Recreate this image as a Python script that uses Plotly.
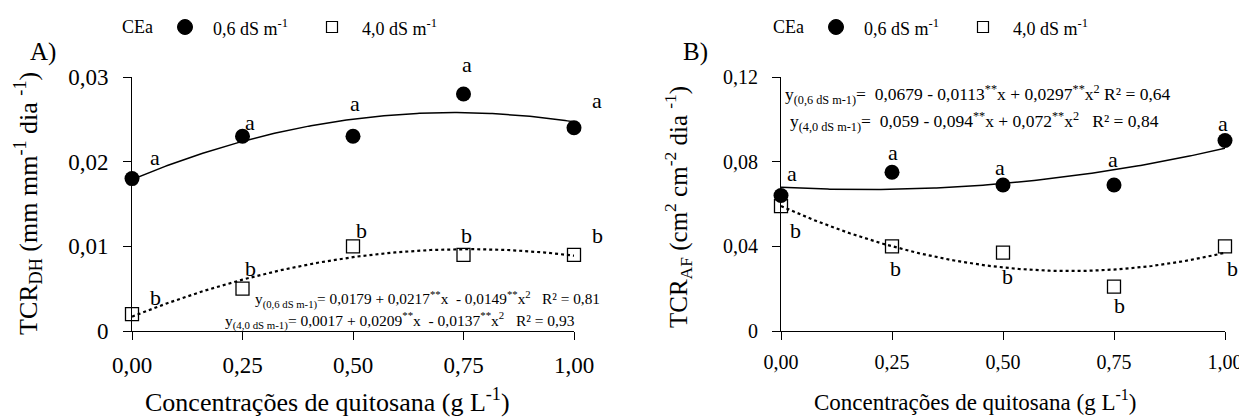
import numpy as np
import plotly.graph_objects as go

# page body has an 8px default margin: figure is sized to fit the window
OFF = 8
W, H = 1247 - OFF, 419 - OFF
FONT = "Times New Roman"

# ---------------- data ----------------
conc = [0.0, 0.25, 0.50, 0.75, 1.00]
x_tick_labels = ["0,00", "0,25", "0,50", "0,75", "1,00"]

# Panel A : TCR_DH
dh_06 = [0.018, 0.023, 0.023, 0.028, 0.024]
dh_40 = [0.002, 0.005, 0.010, 0.009, 0.009]
dh_06_letters = ["a", "a", "a", "a", "a"]
dh_40_letters = ["b", "b", "b", "b", "b"]
dh_06_coef = [0.0179, 0.0217, -0.0149]
dh_40_coef = [0.0017, 0.0209, -0.0137]
dh_yticks = [0, 0.01, 0.02, 0.03]
dh_ytick_labels = ["0", "0,01", "0,02", "0,03"]

# Panel B : TCR_AF
af_06 = [0.064, 0.075, 0.069, 0.069, 0.090]
af_40 = [0.059, 0.040, 0.037, 0.021, 0.040]
af_06_letters = ["a", "a", "a", "a", "a"]
af_40_letters = ["b", "b", "b", "b", "b"]
af_06_coef = [0.0679, -0.0113, 0.0297]
af_40_coef = [0.059, -0.094, 0.072]
af_yticks = [0, 0.04, 0.08, 0.12]
af_ytick_labels = ["0", "0,04", "0,08", "0,12"]

# letter offsets (pixels, x right / y up)
dh_06_off = [(23, 21), (7, 14), (2, 33), (3, 29), (23, 27)]
dh_40_off = [(23, 17), (8, 20), (8, 16), (3, 19), (23, 19)]
af_06_off = [(11, 22), (1, 20), (-3, 17), (-1, 25), (-2, 17)]
af_40_off = [(14, -24), (3, -22), (4, -24), (5, -19), (7, -22)]


def px_x(p):
    return (p - OFF) / W


def px_y(p):
    return 1 - (p - OFF) / H


def quad(coef, x):
    return coef[0] + coef[1] * x + coef[2] * x ** 2


x_fit = np.linspace(0, 1, 201)

fig = go.Figure()

panels = [
    ("x", "y", dh_06, dh_40, dh_06_coef, dh_40_coef, dh_06_letters, dh_40_letters, dh_06_off, dh_40_off),
    ("x2", "y2", af_06, af_40, af_06_coef, af_40_coef, af_06_letters, af_40_letters, af_06_off, af_40_off),
]

annotations = []
for xa, ya, s06, s40, c06, c40, l06, l40, o06, o40 in panels:
    fig.add_trace(go.Scatter(x=x_fit, y=quad(c06, x_fit), mode="lines",
                             line=dict(color="black", width=1.5),
                             xaxis=xa, yaxis=ya, showlegend=False, hoverinfo="skip"))
    fig.add_trace(go.Scatter(x=x_fit, y=quad(c40, x_fit), mode="lines",
                             line=dict(color="black", width=2.2, dash="dot"),
                             xaxis=xa, yaxis=ya, showlegend=False, hoverinfo="skip"))
    fig.add_trace(go.Scatter(x=conc, y=s06, mode="markers",
                             marker=dict(symbol="circle", size=15, color="black"),
                             xaxis=xa, yaxis=ya, showlegend=False, cliponaxis=False))
    fig.add_trace(go.Scatter(x=conc, y=s40, mode="markers",
                             marker=dict(symbol="square-open", size=13, color="black",
                                         line=dict(width=1.3, color="black")),
                             xaxis=xa, yaxis=ya, showlegend=False, cliponaxis=False))
    for xv, yv, t, (dx, dy) in zip(conc, s06, l06, o06):
        annotations.append(dict(x=xv, y=yv, xref=xa, yref=ya, text=t, showarrow=False,
                                xshift=dx, yshift=dy, font=dict(family=FONT, size=22, color="black")))
    for xv, yv, t, (dx, dy) in zip(conc, s40, l40, o40):
        annotations.append(dict(x=xv, y=yv, xref=xa, yref=ya, text=t, showarrow=False,
                                xshift=dx, yshift=dy, font=dict(family=FONT, size=22, color="black")))

# axes
def xaxis_cfg(x0, x1, anchor, size):
    return dict(domain=[px_x(x0), px_x(x1)], range=[0, 1], anchor=anchor,
                automargin=False,
                showline=True, linecolor="black", linewidth=1, ticks="outside",
                ticklen=8, tickwidth=1, tickcolor="black", tickvals=conc,
                ticktext=x_tick_labels, showgrid=False, zeroline=False,
                tickfont=dict(family=FONT, size=size, color="black"),
                ticklabelstandoff=5)


def yaxis_cfg(rng, vals, labels, anchor, size):
    return dict(domain=[px_y(331), px_y(77)], range=rng, anchor=anchor,
                automargin=False,
                showline=True, linecolor="black", linewidth=1, ticks="outside",
                ticklen=8, tickwidth=1, tickcolor="black", tickvals=vals,
                ticktext=labels, showgrid=False, zeroline=False,
                tickfont=dict(family=FONT, size=size, color="black"),
                ticklabelstandoff=10)


def txt(x, y, text, size, xanchor="center", angle=0):
    return dict(x=px_x(x), y=px_y(y), xref="paper", yref="paper", text=text,
                showarrow=False, xanchor=xanchor, yanchor="middle", textangle=angle,
                font=dict(family=FONT, size=size, color="black"))


nb = "&nbsp;"
annotations += [
    txt(43, 52, "A)", 25),
    txt(695, 52, "B)", 25),
    txt(328, 400, "Concentrações de quitosana (g L<sup>-1</sup>)", 26),
    txt(975, 400, "Concentrações de quitosana (g L<sup>-1</sup>)", 23),
    txt(28, 204, "TCR<sub>DH</sub> (mm mm<sup>-1</sup> dia <sup>-1</sup>)", 26, angle=-90),
    txt(678, 207, "TCR<sub>AF</sub> (cm<sup>2</sup> cm<sup>-2</sup> dia <sup>-1</sup>)", 25, angle=-90),
    # equations panel A
    txt(253, 299, "y<sub>(0,6 dS m-1)</sub>= 0,0179 + 0,0217<sup>**</sup>x" + nb + " - 0,0149<sup>**</sup>x<sup>2</sup>"
        + nb + nb + " R² = 0,81", 15.3, xanchor="left"),
    txt(223, 320, "y<sub>(4,0 dS m-1)</sub>= 0,0017 + 0,0209<sup>**</sup>x" + nb + " - 0,0137<sup>**</sup>x<sup>2</sup>"
        + nb + nb + " R² = 0,93", 15.5, xanchor="left"),
    # equations panel B
    txt(783, 95, "y<sub>(0,6 dS m-1)</sub>=" + nb + " 0,0679 - 0,0113<sup>**</sup>x + 0,0297<sup>**</sup>x<sup>2</sup> R² = 0,64",
        17.5, xanchor="left"),
    txt(788, 121, "y<sub>(4,0 dS m-1)</sub>=" + nb + " 0,059 - 0,094<sup>**</sup>x + 0,072<sup>**</sup>x<sup>2</sup>" + nb + nb + " R² = 0,84",
        17.5, xanchor="left"),
]

# legends (one above each panel)
shapes = []
for base in (0, 651):
    annotations += [
        txt(120 + base, 27, "CEa", 18, xanchor="left"),
        txt(211 + base, 27, "0,6 dS m<sup>-1</sup>", 18, xanchor="left"),
        txt(360 + base, 27, "4,0 dS m<sup>-1</sup>", 18, xanchor="left"),
    ]
    cx = 185 + base
    shapes.append(dict(type="circle", xref="paper", yref="paper",
                       x0=px_x(cx - 7.5), x1=px_x(cx + 7.5), y0=px_y(27 + 7.5), y1=px_y(27 - 7.5),
                       fillcolor="black", line=dict(color="black", width=1)))
    sx = 332 + base
    shapes.append(dict(type="rect", xref="paper", yref="paper",
                       x0=px_x(sx - 5.5), x1=px_x(sx + 5.5), y0=px_y(27 + 5.5), y1=px_y(27 - 5.5),
                       fillcolor="white", line=dict(color="black", width=1.2)))

fig.update_layout(
    template="none",
    width=W, height=H, autosize=False,
    margin=dict(l=0, r=0, t=0, b=0, autoexpand=False),
    paper_bgcolor="white", plot_bgcolor="white",
    showlegend=False,
    xaxis=xaxis_cfg(132, 574, "y", 23),
    yaxis=yaxis_cfg([0, 0.03], dh_yticks, dh_ytick_labels, "x", 23),
    xaxis2=xaxis_cfg(781, 1225, "y2", 20),
    yaxis2=yaxis_cfg([0, 0.12], af_yticks, af_ytick_labels, "x2", 20),
    annotations=annotations,
    shapes=shapes,
    font=dict(family=FONT, color="black"),
)

fig.write_html("out.html")
